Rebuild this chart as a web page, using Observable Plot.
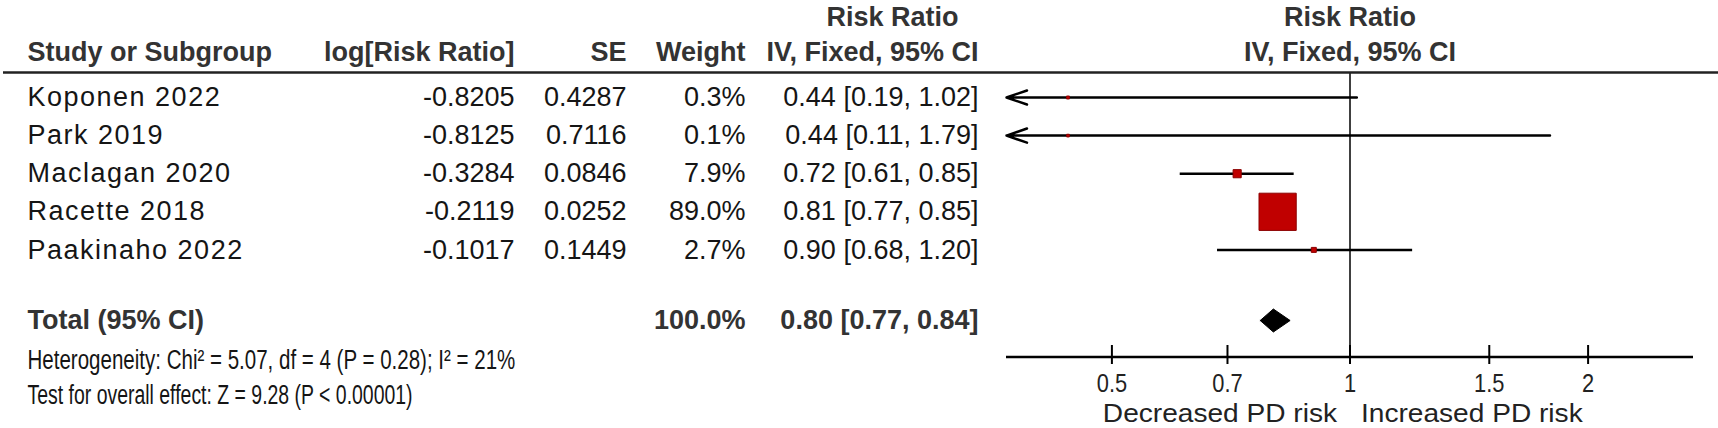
<!DOCTYPE html>
<html><head><meta charset="utf-8">
<script src="https://cdn.jsdelivr.net/npm/d3@7"></script>
<script src="https://cdn.jsdelivr.net/npm/@observablehq/plot@0.6"></script>
<style>
body{margin:0;background:#fff}
#chart{position:relative;width:1718px;height:428px}
</style>
</head><body><div id="chart"></div>
<script>
// ---- data ----
const studies = ["Koponen 2022","Park 2019","Maclagan 2020","Racette 2018","Paakinaho 2022"];
const logRR = ["-0.8205","-0.8125","-0.3284","-0.2119","-0.1017"];
const seVals = ["0.4287","0.7116","0.0846","0.0252","0.1449"];
const weights = [0.3, 0.1, 7.9, 89.0, 2.7];
const rr = [0.44, 0.44, 0.72, 0.81, 0.90];
const lower = [0.19, 0.11, 0.61, 0.77, 0.68];
const upper = [1.02, 1.79, 0.85, 0.85, 1.20];
const totalLabel = "Total (95% CI)";
const totalWeight = "100.0%";
const totalRR = 0.80, totalLower = 0.77, totalUpper = 0.84;
const xTicks = [0.5, 0.7, 1, 1.5, 2];
const xTickLabels = ["0.5", "0.7", "1", "1.5", "2"];
const xDomain = [Math.exp(-1), Math.exp(1)];
const headers = ["Study or Subgroup", "log[Risk Ratio]", "SE", "Weight", "IV, Fixed, 95% CI"];
const groupHeader = "Risk Ratio";
const heterogeneity = "Heterogeneity: Chi² = 5.07, df = 4 (P = 0.28); I² = 21%";
const overall = "Test for overall effect: Z = 9.28 (P < 0.00001)";
const favours = ["Decreased PD risk", "Increased PD risk"];

// ---- layout ----
const W = 1718, H = 428;
const mL = 1006, mR = 25, mT = 72.5, mB = H - 356.5;
const row0 = 97, step = 38.1;
const v = px => (px - row0) / step;   // pixel row position -> y value
const yTop = v(mT), yBot = v(H - mB);
const Y = {h1: v(17), h2: v(51.5), total: v(320), het: v(360), test: v(395),
           tick1: v(345), tick2: v(364), tickLab: v(383.5), fav: v(413.5)};
const colX = [27, 514, 626, 745, 978]; // table column anchors (px)
const dxOf = px => px - mL;
const REG = "Liberation Sans, Arial, sans-serif";

const fmt2 = x => x.toFixed(2);
const rows = studies.map((s, i) => ({
  study: s, i, logrr: logRR[i], se: seVals[i], w: weights[i], wl: weights[i].toFixed(1) + "%",
  rr: rr[i], lo: lower[i], hi: upper[i],
  ci: `${fmt2(rr[i])} [${fmt2(lower[i])}, ${fmt2(upper[i])}]`,
  clipped: lower[i] < xDomain[0]
}));
const totalCI = `${fmt2(totalRR)} [${fmt2(totalLower)}, ${fmt2(totalUpper)}]`;
const diamondH = 11.5 / step;
const diamond = [
  {x: totalLower, y: Y.total}, {x: totalRR, y: Y.total - diamondH},
  {x: totalUpper, y: Y.total}, {x: totalRR, y: Y.total + diamondH}, {x: totalLower, y: Y.total}
];

const tableText = (data, col, value, anchor, opts = {}) =>
  Plot.text(data, {y: "i", text: value, frameAnchor: "left", dx: dxOf(colX[col]), textAnchor: anchor,
    fontSize: 27, fontFamily: REG, fill: "#151515", ...opts});

const one = [{}];
const label = (text, y, opts) => Plot.text(one, {y: () => y, text: () => text, fontSize: 27, fontFamily: REG, ...opts});
const hdr = (text, col, anchor, y) => label(text, y, {frameAnchor: "left", dx: dxOf(colX[col]), textAnchor: anchor,
  fontWeight: "bold", fill: "#333"});

const plot = Plot.plot({
  width: W, height: H,
  marginLeft: mL, marginRight: mR, marginTop: mT, marginBottom: mB,
  x: {type: "log", domain: xDomain, axis: null},
  y: {domain: [yTop, yBot], reverse: true, axis: null},
  r: {type: "pow", exponent: 0.75, domain: [0, 89], range: [1.4, 21]},
  style: {background: "transparent", overflow: "visible"},
  marks: [
    // header
    hdr(headers[0], 0, "start", Y.h2),
    hdr(headers[1], 1, "end", Y.h2),
    hdr(headers[2], 2, "end", Y.h2),
    hdr(headers[3], 3, "end", Y.h2),
    hdr(headers[4], 4, "end", Y.h2),
    label(groupHeader, Y.h1, {frameAnchor: "left", dx: dxOf(colX[4]) - 86, textAnchor: "middle", fontWeight: "bold", fill: "#333"}),
    Plot.text(one, {x: () => 1, y: () => Y.h1, text: () => groupHeader, fontSize: 27, fontWeight: "bold", fontFamily: REG, fill: "#333"}),
    Plot.text(one, {x: () => 1, y: () => Y.h2, text: () => headers[4], fontSize: 27, fontWeight: "bold", fontFamily: REG, fill: "#333"}),
    // table rows
    tableText(rows, 0, "study", "start", {ariaDescription: "names"}),
    tableText(rows, 1, "logrr", "end"),
    tableText(rows, 2, "se", "end"),
    tableText(rows, 3, "wl", "end"),
    tableText(rows, 4, "ci", "end"),
    // total row
    hdr(totalLabel, 0, "start", Y.total),
    hdr(totalWeight, 3, "end", Y.total),
    hdr(totalCI, 4, "end", Y.total),
    // footnotes (condensed)
    Plot.text([heterogeneity], {y: () => Y.het, text: d => d, frameAnchor: "left",
      dx: dxOf(colX[0]), textAnchor: "start", fontSize: 27, fontFamily: REG, fill: "#151515", ariaDescription: "narrow"}),
    Plot.text([overall], {y: () => Y.test, text: d => d, frameAnchor: "left",
      dx: dxOf(colX[0]), textAnchor: "start", fontSize: 27, fontFamily: REG, fill: "#151515", ariaDescription: "narrow2"}),
    // forest: reference line and axis
    Plot.ruleX([1], {y1: yTop, y2: yBot, stroke: "#000", strokeWidth: 1.5}),
    Plot.ruleY([yBot], {stroke: "#000", strokeWidth: 2.5}),
    Plot.ruleX(xTicks, {y1: Y.tick1, y2: Y.tick2, stroke: "#000", strokeWidth: 2}),
    Plot.text(xTicks, {x: d => d, y: () => Y.tickLab, text: (d, i) => xTickLabels[i], fontSize: 26, fontFamily: REG,
      fill: "#222", ariaDescription: "ticknarrow"}),
    Plot.text(favours.slice(0, 1), {x: () => 1, y: () => Y.fav, text: d => d, textAnchor: "end", dx: -13,
      fontSize: 26.5, fontFamily: REG, fill: "#222", ariaDescription: "fav"}),
    Plot.text(favours.slice(1), {x: () => 1, y: () => Y.fav, text: d => d, textAnchor: "start", dx: 11,
      fontSize: 26.5, fontFamily: REG, fill: "#222", ariaDescription: "fav"}),
    // CIs
    Plot.ruleY(rows.filter(d => !d.clipped), {y: "i", x1: "lo", x2: "hi", stroke: "#000", strokeWidth: 2.5}),
    Plot.arrow(rows.filter(d => d.clipped), {y: "i", x1: "hi", x2: () => xDomain[0], stroke: "#000", strokeWidth: 2.5,
      headLength: 13, headAngle: 38}),
    // squares
    Plot.dot(rows, {x: "rr", y: "i", r: "w", symbol: "square", fill: "#c00000", stroke: "#8b0000", strokeWidth: 1}),
    // diamond
    Plot.line(diamond, {x: "x", y: "y", fill: "#000", stroke: "#000", strokeWidth: 1, curve: "linear"})
  ]
});
document.getElementById("chart").appendChild(plot);
const root = d3.select(plot);
// condense / stretch texts to match the reference's face widths
const fit = (desc, f) => root.selectAll(`g[aria-description="${desc}"] text`).each(function () {
  const len = this.getComputedTextLength();
  if (len > 0) d3.select(this).attr("textLength", len * f).attr("lengthAdjust", "spacingAndGlyphs");
});
fit("narrow", 0.76);
fit("narrow2", 0.72);
fit("ticknarrow", 0.84);
fit("fav", 1.06);
root.selectAll('g[aria-description="names"] text').style("letter-spacing", "1.5px");
// header rule spanning full width
const ys = plot.scale("y");
root.append("line")
  .attr("x1", 3).attr("x2", W).attr("y1", ys.apply(yTop)).attr("y2", ys.apply(yTop))
  .attr("stroke", "#222").attr("stroke-width", 2.5);
</script>
</body></html>
